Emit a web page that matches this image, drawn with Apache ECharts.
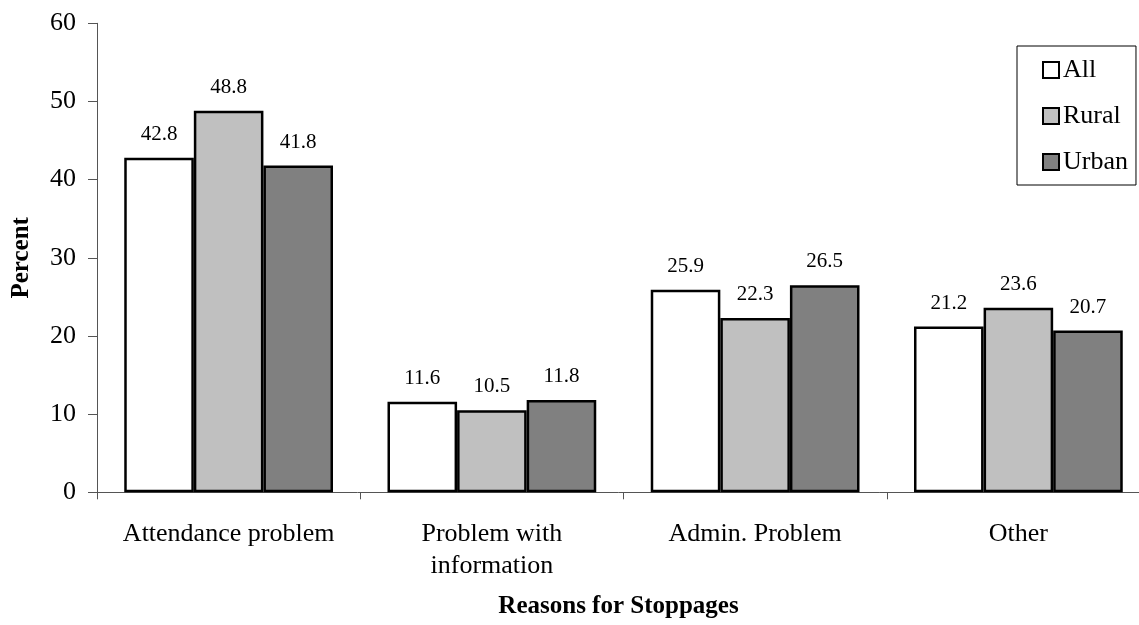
<!DOCTYPE html>
<html>
<head>
<meta charset="utf-8">
<script src="https://cdn.jsdelivr.net/npm/echarts@6/dist/echarts.min.js"></script>
<style>
  html, body { margin: 0; padding: 0; background: #fff; }
  #chart { width: 1139px; height: 625px; }
</style>
</head>
<body>
<div id="chart"></div>
<script>
// Reasons for payment stoppages, by area (percent)
const categories = ['Attendance problem', 'Problem with\ninformation', 'Admin. Problem', 'Other'];
const seriesNames = ['All', 'Rural', 'Urban'];
const allValues = [42.8, 11.6, 25.9, 21.2];
const ruralValues = [48.8, 10.5, 22.3, 23.6];
const urbanValues = [41.8, 11.8, 26.5, 20.7];
const yTicks = [0, 10, 20, 30, 40, 50, 60];

const FONT = '"Liberation Serif", "Times New Roman", serif';
const fills = ['#ffffff', '#c0c0c0', '#808080'];
const valueSets = [allValues, ruralValues, urbanValues];

const chart = echarts.init(document.getElementById('chart'), null, { renderer: 'canvas' });

chart.setOption({
  animation: false,
  backgroundColor: '#ffffff',
  textStyle: { fontFamily: FONT, color: '#000' },
  grid: { left: 97, top: 23.3, width: 1053, height: 469, containLabel: false, outerBoundsMode: 'none' },
  legend: {
    orient: 'vertical',
    left: 1017,
    top: 46,
    padding: [11, 8, 10, 25],
    itemGap: 20,
    itemWidth: 16,
    itemHeight: 16,
    icon: 'rect',
    backgroundColor: '#ffffff',
    borderColor: '#000',
    borderWidth: 1,
    borderRadius: 0,
    itemStyle: { borderColor: '#000', borderWidth: 2 },
    textStyle: { fontFamily: FONT, fontSize: 26, color: '#000', padding: [0, 0, 0, -1] },
    data: seriesNames
  },
  xAxis: {
    type: 'category',
    data: categories,
    name: 'Reasons for Stoppages',
    nameLocation: 'middle',
    nameGap: 102,
    nameTextStyle: { fontFamily: FONT, fontSize: 25, fontWeight: 'bold', color: '#000', padding: [0, 10, 0, 0] },
    axisLine: { show: true, lineStyle: { color: '#555', width: 1 } },
    axisTick: { show: true, length: 7, lineStyle: { color: '#555' } },
    axisLabel: { fontFamily: FONT, fontSize: 26, color: '#000', margin: 26, lineHeight: 32, interval: 0 },
    splitLine: { show: false }
  },
  yAxis: {
    type: 'value',
    min: yTicks[0],
    max: yTicks[yTicks.length - 1],
    interval: 10,
    name: 'Percent',
    nameLocation: 'middle',
    nameGap: 63,
    nameTextStyle: { fontFamily: FONT, fontSize: 25, fontWeight: 'bold', color: '#000' },
    axisLine: { show: true, lineStyle: { color: '#555', width: 1 } },
    axisTick: { show: true, length: 9, lineStyle: { color: '#555' } },
    axisLabel: { fontFamily: FONT, fontSize: 26, color: '#000', margin: 21 },
    splitLine: { show: false }
  },
  series: seriesNames.map((name, i) => ({
    name: name,
    type: 'bar',
    data: valueSets[i],
    barGap: '0%',
    barCategoryGap: '20.7%',
    itemStyle: { color: fills[i], borderColor: '#000', borderWidth: 2.5 },
    label: {
      show: true,
      position: 'top',
      distance: 13,
      fontFamily: FONT,
      fontSize: 21,
      color: '#000',
      formatter: (p) => p.value.toFixed(1)
    }
  }))
});
</script>
</body>
</html>
